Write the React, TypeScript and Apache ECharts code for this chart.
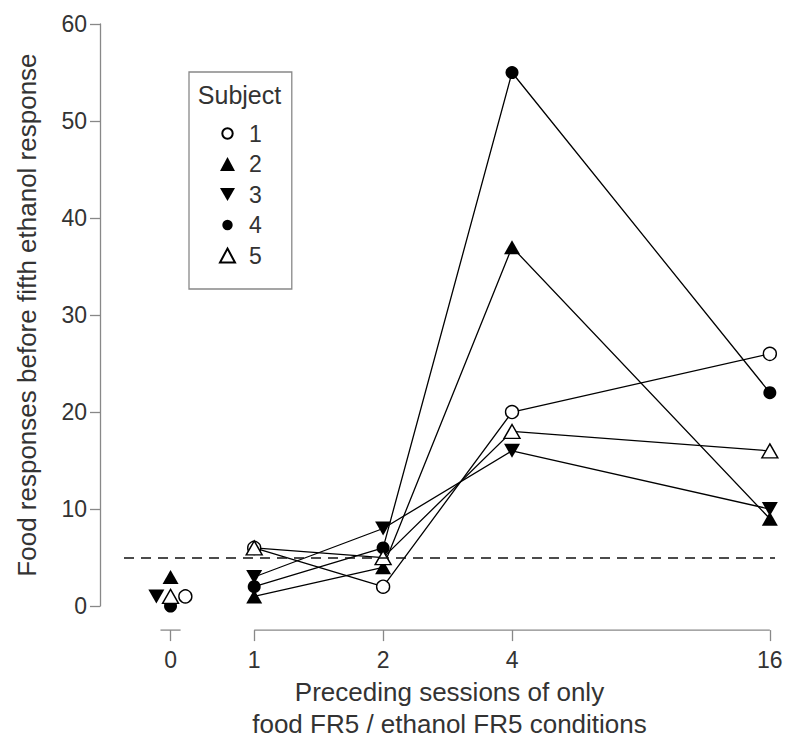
import React, { useEffect, useRef } from "react";
import * as echarts from "echarts";

// ---- data ----
const sessions = [0, 1, 2, 4, 16];
const tickLabels = ["0", "1", "2", "4", "16"];
const subjects = ["1", "2", "3", "4", "5"];
const subject1 = [1, 6, 2, 20, 26];
const subject2 = [3, 1, 4, 37, 9];
const subject3 = [1, 3, 8, 16, 10];
const subject4 = [0, 2, 6, 55, 22];
const subject5 = [1, 6, 5, 18, 16];
const subjectValues = [subject1, subject2, subject3, subject4, subject5];
const criterion = 5;
// horizontal jitter of the baseline (0 sessions) points, in axis units
const zeroJitter = [0.115, 0, -0.11, 0, 0];

// axis position of each session count (log2 scale, 0 placed left of the break)
const ZERO_POS = -0.649;
const sessionPos = sessions.map((s) => (s === 0 ? ZERO_POS : Math.log2(s)));

const DOWN_TRI = "path://M0,0L16,0L8,14Z";
const symbols = ["circle", "triangle", DOWN_TRI, "circle", "triangle"];
// smaller circle for the legend key (padded path box)
const SMALL_CIRCLE = "path://M0,0M15,14M7.5,1.8A5.2,5.2,0,1,1,7.5,12.2A5.2,5.2,0,1,1,7.5,1.8Z";
const legendIcons = [SMALL_CIRCLE, "triangle", DOWN_TRI, SMALL_CIRCLE, "triangle"];
const filled = [false, true, true, true, false];
const symSizes: any[] = [13, [16, 14], [16, 14], 13, [16, 14]];

const FONT = "'Liberation Sans', Arial, Helvetica, sans-serif";
const TEXT = "#333";
const AXIS = "#888";

export default function App() {
  const ref = useRef<HTMLDivElement>(null);

  useEffect(() => {
    document.body.style.margin = "0";
    if (!ref.current) return;
    const chart = echarts.init(ref.current, undefined, { renderer: "svg" });

    const series: any[] = [];
    subjects.forEach((name, i) => {
      const vals = subjectValues[i];
      const itemStyle = {
        color: filled[i] ? "#000" : "#fff",
        borderColor: "#000",
        borderWidth: filled[i] ? 0 : 1.4,
        opacity: 1,
      };
      series.push({
        type: "line",
        name,
        data: sessionPos.slice(1).map((p, k) => [p, vals[k + 1]]),
        symbol: symbols[i],
        symbolSize: symSizes[i],
        showSymbol: true,
        lineStyle: { color: "#000", width: 1.3 },
        itemStyle,
        z: 3,
        ...(i === 0
          ? {
              markLine: {
                silent: true,
                symbol: "none",
                label: { show: false },
                lineStyle: { color: "#111", width: 1.6, type: [10, 7] },
                data: [{ yAxis: criterion }],
              },
            }
          : {}),
      });
      series.push({
        type: "scatter",
        name,
        data: [[sessionPos[0] + zeroJitter[i], vals[0]]],
        symbol: symbols[i],
        symbolSize: symSizes[i],
        itemStyle,
        z: 3,
      });
    });

    const labelFor = (v: number) => {
      const idx = sessionPos.findIndex((p) => Math.abs(p - v) < 1e-6);
      return idx >= 0 ? tickLabels[idx] : "";
    };

    chart.setOption({
      animation: false,
      textStyle: { fontFamily: FONT },
      grid: { left: 124, right: 25, top: 24, bottom: 135, containLabel: false },
      xAxis: {
        type: "value",
        min: -1.01,
        max: 4.04,
        splitLine: { show: false },
        axisLine: { show: false, onZero: false },
        offset: 24,
        axisTick: {
          show: true,
          customValues: sessionPos,
          inside: false,
          length: 11,
          lineStyle: { color: AXIS, width: 1.3 },
        },
        axisLabel: {
          customValues: sessionPos,
          formatter: (v: number) => labelFor(v),
          fontSize: 23,
          color: TEXT,
          margin: 18,
          fontFamily: FONT,
        },
        name: "Preceding sessions of only\nfood FR5 / ethanol FR5 conditions",
        nameLocation: "middle",
        nameGap: 42,
        nameTextStyle: { fontSize: 26, color: TEXT, lineHeight: 32, fontFamily: FONT },
      },
      yAxis: {
        type: "value",
        min: 0,
        max: 60,
        interval: 10,
        offset: 24,
        splitLine: { show: false },
        axisLine: { show: true, onZero: false, lineStyle: { color: AXIS, width: 1.3 } },
        axisTick: { show: true, length: 10, lineStyle: { color: AXIS, width: 1.3 } },
        axisLabel: { fontSize: 23, color: TEXT, margin: 13, fontFamily: FONT },
        name: "Food responses before fifth ethanol response",
        nameLocation: "middle",
        nameGap: 60,
        nameTextStyle: { fontSize: 26, color: TEXT, fontFamily: FONT },
      },
      legend: {
        show: true,
        orient: "vertical",
        left: 189,
        top: 72,
        padding: [50, 30, 22, 30],
        itemGap: 7.5,
        itemWidth: 15,
        itemHeight: 14,
        borderColor: AXIS,
        borderWidth: 1.3,
        selectedMode: false,
        textStyle: { fontSize: 23, color: TEXT, padding: [0, 0, 0, 9], fontFamily: FONT },
        data: subjects.map((name, i) => ({ name, icon: legendIcons[i] })),
      },
      series,
    });

    // draw the broken x axis line through the axis scale
    const xPix = (v: number) => chart.convertToPixel({ xAxisIndex: 0 }, v) as number;
    const axisY = (chart.convertToPixel({ yAxisIndex: 0 }, 0) as number) + 24;
    const lineStyle = { stroke: AXIS, lineWidth: 1.3 };
    chart.setOption({
      graphic: [
        {
          type: "line",
          shape: { x1: xPix(sessionPos[1]), y1: axisY, x2: xPix(sessionPos[4]), y2: axisY },
          style: lineStyle,
          silent: true,
        },
        {
          type: "line",
          shape: { x1: xPix(ZERO_POS - 0.078), y1: axisY, x2: xPix(ZERO_POS + 0.078), y2: axisY },
          style: lineStyle,
          silent: true,
        },
        {
          type: "text",
          x: 239.5,
          y: 95,
          style: {
            text: "Subject",
            fontSize: 25,
            fontFamily: FONT,
            fill: TEXT,
            textAlign: "center",
            textVerticalAlign: "middle",
          },
          silent: true,
        },
      ],
    });

    return () => chart.dispose();
  }, []);

  return <div ref={ref} style={{ width: 800, height: 745 }} />;
}
